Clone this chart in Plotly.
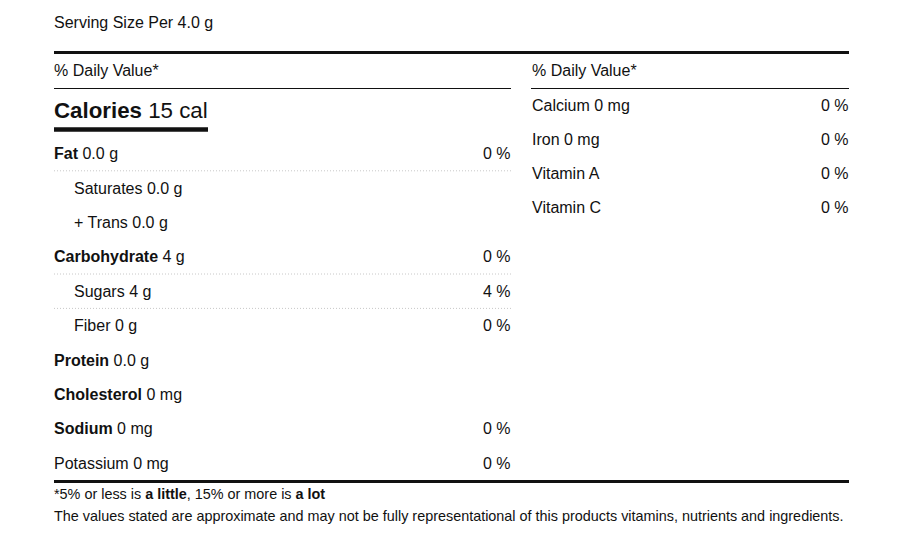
import plotly.graph_objects as go

# ---- data ----
serving_size = "4.0 g"
calories = "15 cal"
left_names = ["Fat", "Saturates", "+ Trans", "Carbohydrate", "Sugars", "Fiber",
              "Protein", "Cholesterol", "Sodium", "Potassium"]
left_amounts = ["0.0 g", "0.0 g", "0.0 g", "4 g", "4 g", "0 g",
                "0.0 g", "0 mg", "0 mg", "0 mg"]
left_percents = ["0 %", "", "", "0 %", "4 %", "0 %", "", "", "0 %", "0 %"]
left_bold = [True, False, False, True, False, False, True, True, True, False]
left_indent = [False, True, True, False, True, True, False, False, False, False]
left_divider_after = [True, False, False, True, True, False, False, False, False, False]

right_names = ["Calcium", "Iron", "Vitamin A", "Vitamin C"]
right_amounts = ["0 mg", "0 mg", "", ""]
right_percents = ["0 %", "0 %", "0 %", "0 %"]

footnote1 = "*5% or less is <b>a little</b>, 15% or more is <b>a lot</b>"
footnote2 = ("The values stated are approximate and may not be fully representational "
             "of this products vitamins, nutrients and ingredients.")

# ---- layout ----
W, H = 920, 554
OFF = 8  # page body margin
FONT = "Liberation Sans, Arial, sans-serif"
TXT = "#111111"
L0, L1 = 54, 511
R0, R1 = 531, 849

fig = go.Figure()
ann = []
shapes = []


def text(x, y, s, size=16, anchor="left"):
    ann.append(dict(x=x, y=y, xref="x", yref="y", text=s, showarrow=False,
                    xanchor=anchor, yanchor="middle", borderpad=0, borderwidth=0,
                    font=dict(family=FONT, size=size, color=TXT)))


def hline(x0, x1, y, width, color=TXT, dash="solid"):
    shapes.append(dict(type="line", xref="x", yref="y", x0=x0, x1=x1, y0=y, y1=y,
                       line=dict(color=color, width=width, dash=dash)))


text(L0, 22, f"Serving Size Per {serving_size}")
hline(L0, R1, 52.5, 3)
text(L0, 70, "% Daily Value*")
text(R0 + 1, 70, "% Daily Value*")
hline(L0, L1, 88.5, 1)
hline(R0, R1, 88.5, 1)
text(L0, 110, f"<b>Calories</b> {calories}", size=22.3)
hline(L0, 208, 129.5, 4.5)

row0, step = 153.6, 34.4
for i, name in enumerate(left_names):
    y = row0 + i * step
    x = L0 + (20 if left_indent[i] else 0)
    label = f"<b>{name}</b>" if left_bold[i] else name
    text(x, y, f"{label} {left_amounts[i]}")
    if left_percents[i]:
        text(L1, y, left_percents[i], anchor="right")
    if left_divider_after[i]:
        hline(L0, L1, y + step / 2, 1, color="#c8c8c8", dash="1px,2px")

rrow0, rstep = 105, 34
for i, name in enumerate(right_names):
    y = rrow0 + i * rstep
    s = f"{name} {right_amounts[i]}".strip()
    text(R0 + 1, y, s)
    text(R1, y, right_percents[i], anchor="right")

hline(L0, R1, 481.5, 3)
text(L0, 493.5, footnote1, size=14.4)
text(L0, 515.5, footnote2, size=14.4)

fig.update_layout(
    width=W, height=H,
    margin=dict(l=0, r=0, t=0, b=0),
    paper_bgcolor="white", plot_bgcolor="white",
    xaxis=dict(range=[OFF, W + OFF], visible=False, fixedrange=True),
    yaxis=dict(range=[H + OFF, OFF], visible=False, fixedrange=True),
    annotations=ann, shapes=shapes, showlegend=False,
)
fig.write_html("out.html", config={"displayModeBar": False})
